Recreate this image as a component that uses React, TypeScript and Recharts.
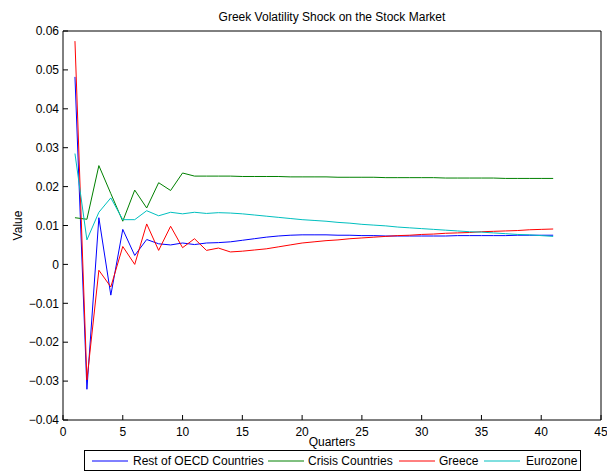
import React from 'react';
import { LineChart, Line, XAxis, YAxis, Label } from 'recharts';

const quarters = [1,2,3,4,5,6,7,8,9,10,11,12,13,14,15,16,17,18,19,20,21,22,23,24,25,26,27,28,29,30,31,32,33,34,35,36,37,38,39,40,41];

const restOfOECD = [0.0482,-0.0321,0.0120,-0.0079,0.0090,0.0023,0.0064,0.0053,0.0050,0.0055,0.0051,0.0055,0.0056,0.0058,0.0062,0.0066,0.0070,0.0073,0.0075,0.0076,0.0076,0.0076,0.0075,0.0075,0.0074,0.0074,0.0073,0.0073,0.0073,0.0073,0.0073,0.0073,0.0074,0.0074,0.0074,0.0074,0.0074,0.0075,0.0075,0.0075,0.0075];

const crisisCountries = [0.0120,0.0116,0.0254,0.0182,0.0111,0.0191,0.0145,0.0210,0.0190,0.0235,0.0227,0.0227,0.0227,0.0227,0.0226,0.0226,0.0226,0.0226,0.0225,0.0225,0.0225,0.0225,0.0224,0.0224,0.0224,0.0224,0.0223,0.0223,0.0223,0.0223,0.0223,0.0222,0.0222,0.0222,0.0222,0.0222,0.0221,0.0221,0.0221,0.0221,0.0221];

const greece = [0.0574,-0.0297,-0.0015,-0.0058,0.0046,0.0000,0.0104,0.0036,0.0098,0.0043,0.0066,0.0036,0.0042,0.0032,0.0034,0.0037,0.0040,0.0045,0.0050,0.0055,0.0058,0.0061,0.0063,0.0066,0.0068,0.0070,0.0072,0.0074,0.0075,0.0077,0.0078,0.0080,0.0081,0.0082,0.0084,0.0085,0.0086,0.0087,0.0089,0.0090,0.0091];

const eurozone = [0.0285,0.0063,0.0134,0.0171,0.0115,0.0115,0.0138,0.0125,0.0134,0.0130,0.0134,0.0131,0.0133,0.0132,0.0130,0.0127,0.0124,0.0121,0.0118,0.0115,0.0113,0.0111,0.0108,0.0106,0.0103,0.0101,0.0099,0.0096,0.0094,0.0092,0.0090,0.0088,0.0086,0.0084,0.0083,0.0081,0.0079,0.0077,0.0076,0.0074,0.0072];

const xTicks = [0,5,10,15,20,25,30,35,40,45];
const yTicks = [-0.04,-0.03,-0.02,-0.01,0,0.01,0.02,0.03,0.04,0.05,0.06];

const seriesNames = ['Rest of OECD Countries','Crisis Countries','Greece','Eurozone'];
const seriesColors = ['#0000ff','#008000','#ff0000','#00bfbf'];
const seriesKeys = ['oecd','crisis','greece','euro'];

const data = quarters.map((q, i) => ({
  q,
  oecd: restOfOECD[i],
  crisis: crisisCountries[i],
  greece: greece[i],
  euro: eurozone[i],
}));

const fmtY = (v: number) => {
  if (Math.abs(v) < 1e-9) return '0';
  const s = Math.abs(v).toFixed(2);
  return v < 0 ? '\u2212' + s : s;
};

const FONT = '"Liberation Sans", Arial, Helvetica, sans-serif';
const FS = 12;
const tickStyle = { fill: '#000', fontSize: FS, fontFamily: FONT };
const labelStyle = { fill: '#000', fontSize: FS, fontFamily: FONT };

// legend layout (page x of line samples and labels)
const legendItems = [
  { lineX: 92, textX: 133 },
  { lineX: 268, textX: 308 },
  { lineX: 399, textX: 439 },
  { lineX: 484, textX: 526 },
];
const LEG_LEFT = 84;

export default function App() {
  return (
    <div style={{ position: 'absolute', left: 0, top: 0, width: 607, height: 473, background: '#fff', fontFamily: FONT }}>
      <LineChart
        width={607}
        height={473}
        data={data}
        margin={{ top: 30, right: 5, bottom: 23, left: 0 }}
      >
        <XAxis
          dataKey="q"
          type="number"
          domain={[0, 45]}
          ticks={xTicks}
          allowDataOverflow
          height={30}
          tickSize={-5}
          tickMargin={12}
          tick={tickStyle}
          stroke="#000"
          interval={0}
        >
          <Label value="Quarters" position="insideBottom" offset={4} style={labelStyle} />
        </XAxis>
        <XAxis
          xAxisId="top"
          orientation="top"
          dataKey="q"
          type="number"
          domain={[0, 45]}
          ticks={xTicks}
          allowDataOverflow
          height={1}
          tickSize={-5}
          tick={false}
          stroke="#000"
          interval={0}
        >
          <Label value="Greek Volatility Shock on the Stock Market" position="top" offset={9} style={labelStyle} />
        </XAxis>
        <YAxis
          type="number"
          domain={[-0.04, 0.06]}
          ticks={yTicks}
          allowDataOverflow
          width={63}
          tickSize={-5}
          tickMargin={9}
          tick={tickStyle}
          tickFormatter={fmtY}
          stroke="#000"
          interval={0}
        >
          <Label value="Value" angle={-90} position="insideLeft" offset={18} style={{ ...labelStyle, textAnchor: 'middle' }} />
        </YAxis>
        <YAxis
          yAxisId="right"
          orientation="right"
          type="number"
          domain={[-0.04, 0.06]}
          ticks={yTicks}
          allowDataOverflow
          width={1}
          tickSize={-5}
          tick={false}
          stroke="#000"
          interval={0}
        />
        {seriesKeys.map((k, i) => (
          <Line
            key={k}
            type="linear"
            dataKey={k}
            name={seriesNames[i]}
            stroke={seriesColors[i]}
            strokeWidth={1}
            dot={false}
            activeDot={false}
            isAnimationActive={false}
          />
        ))}
        <Line
          xAxisId="top"
          yAxisId="right"
          type="linear"
          dataKey="oecd"
          stroke="none"
          dot={false}
          activeDot={false}
          legendType="none"
          isAnimationActive={false}
        />
      </LineChart>
      <div
        style={{
          position: 'absolute',
          left: LEG_LEFT,
          top: 450,
          width: 495,
          height: 19,
          border: '1px solid #000',
          background: '#fff',
        }}
      >
        {legendItems.map((it, i) => (
          <React.Fragment key={i}>
            <svg style={{ position: 'absolute', left: it.lineX - LEG_LEFT - 1, top: 9, overflow: 'visible' }} width={36} height={2}>
              <line x1={0} y1={1} x2={36} y2={1} stroke={seriesColors[i]} strokeWidth={1} />
            </svg>
            <span
              style={{
                position: 'absolute',
                left: it.textX - LEG_LEFT - 1,
                top: 3,
                fontSize: FS,
                lineHeight: '14px',
                color: '#000',
                whiteSpace: 'nowrap',
              }}
            >
              {seriesNames[i]}
            </span>
          </React.Fragment>
        ))}
      </div>
    </div>
  );
}
